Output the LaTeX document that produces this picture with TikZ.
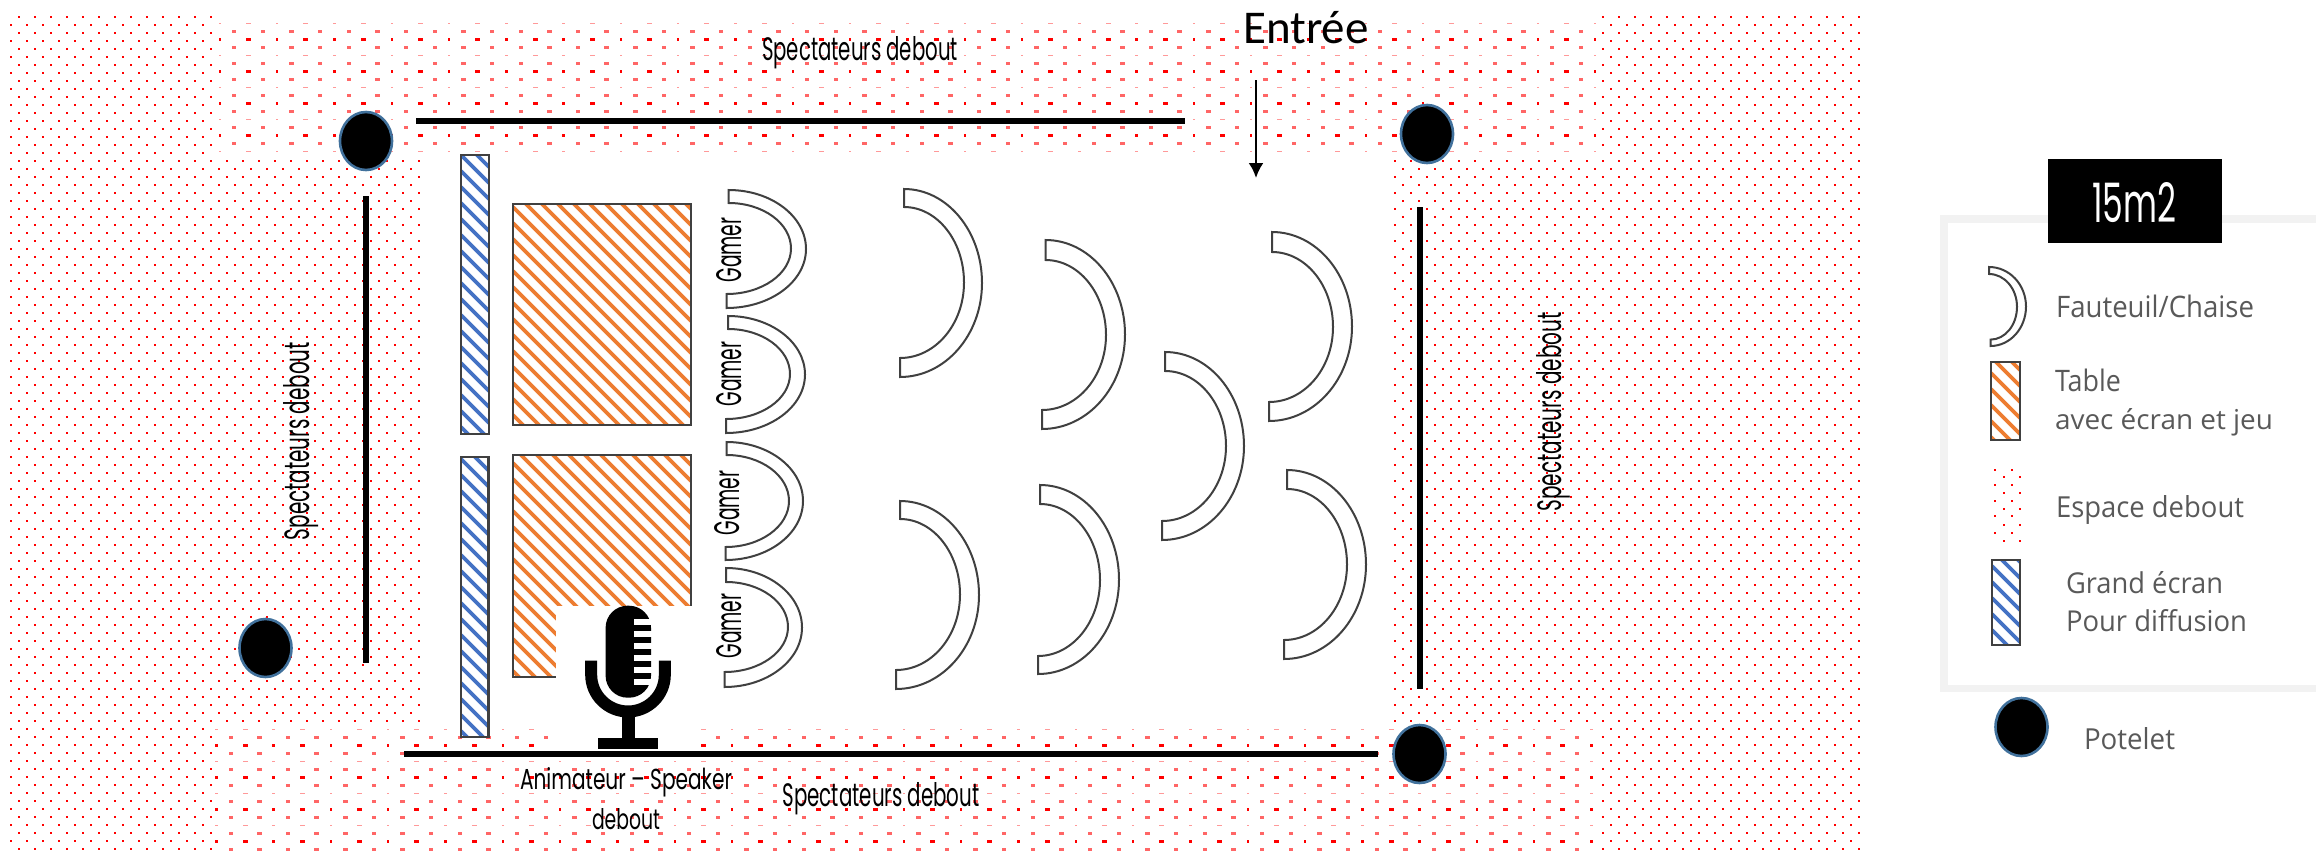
\documentclass[tikz,border=0pt]{standalone}
\usepackage{fontspec}
\usepackage{graphicx}
\usetikzlibrary{arrows.meta}
\newfontfamily\agency{Poppins}
\newfontfamily\legfont{Open Sans}
\newfontfamily\entfont{Carlito}
\definecolor{seatgrey}{HTML}{404040}
\definecolor{tableorange}{HTML}{ED7D31}
\definecolor{screenblue}{HTML}{4472C4}
\definecolor{legendgrey}{HTML}{595959}
\definecolor{framegrey}{HTML}{F2F2F2}
\definecolor{postedge}{HTML}{41719C}
\tikzset{
  seat/.style={draw=seatgrey,line width=2pt,fill=white,line join=miter},
  barrier/.style={line width=6pt,black},
  post/.style={fill=black,draw=postedge,line width=2.6pt},
  hatchedge/.style={draw=seatgrey,line width=2.4pt},
  label/.style={inner sep=0pt,outer sep=0pt,anchor=base,text=black},
  sidelabel/.style={label,rotate=90},
  legendlabel/.style={inner sep=0pt,outer sep=0pt,anchor=base west,text=legendgrey},
}
% fine dot lattice
\newcommand\dotregion[4]{%
 \foreach \k in {#3,...,#4}{%
  \pgfmathtruncatemacro\xo{mod(\k,2)==1?11:19}%
  \pgfmathtruncatemacro\ya{17+8*\k}%
  \pgfmathtruncatemacro\ma{ceil((#1-\xo)/16)}%
  \pgfmathtruncatemacro\mb{floor((#2-\xo)/16)}%
  \foreach \m in {\ma,...,\mb}{%
    \pgfmathtruncatemacro\xa{\xo+16*\m}%
    \fill[red] (\xa-1,\ya-1) rectangle (\xa+1,\ya+1);
  }}}
% blurred, stretched dot lattice
\newcommand\banddots[3]{%
 \foreach \i in {0,...,#3}{%
  \pgfmathtruncatemacro\rr{mod(\i,4)}%
  \pgfmathsetmacro\yb{#2+8*\i}%
  \ifodd\rr
    \foreach \j in {0,...,47}{%
      \pgfmathsetmacro\xb{#1-14.3+28.65*\j}%
      \fill[red!60!white] (\xb-2.2,\yb-1.2) rectangle (\xb+2.2,\yb+1.2);
    }%
  \else
    \foreach \j in {-1,...,47}{%
      \pgfmathsetmacro\xb{#1+28.65*\j}%
      \pgfmathtruncatemacro\jm{mod(abs(\j),2)}%
      \pgfmathsetmacro\hw{\jm==1?1.2:2.5}%
      \pgfmathsetmacro\hh{\rr==0?0.7:1.4}%
      \pgfmathtruncatemacro\cc{\rr==0?40:100}%
      \fill[red!\cc!white] (\xb-\hw,\yb-\hh) rectangle (\xb+\hw,\yb+\hh);
    }%
  \fi
 }}
% x1 y1 x2 y2 colour
\newcommand\hatchrect[5]{%
 \fill[white] (#1,#2) rectangle (#3,#4);
 \begin{scope}
  \clip (#1,#2) rectangle (#3,#4);
  \pgfmathtruncatemacro\na{floor((#2-#3)/16)}%
  \pgfmathtruncatemacro\nb{ceil((#4-#1)/16)}%
  \foreach \n in {\na,...,\nb}{%
    \pgfmathsetmacro\cc{16*\n-2}%
    \draw[#5,line width=3.8pt] (#1,#1+\cc) -- (#3,#3+\cc);
  }
 \end{scope}
 \draw[hatchedge] (#1,#2) rectangle (#3,#4);
}
% tipTop tipBot outerTop outerBot innerTop innerBot outerMax innerMax
\newcommand\seatshape[8]{%
 \pgfmathsetmacro\om{(#3+#4)/2}\pgfmathsetmacro\im{(#5+#6)/2}%
 \pgfmathsetmacro\oka{#1+0.5523*(#7-#1)}\pgfmathsetmacro\okb{#2+0.5523*(#7-#2)}%
 \pgfmathsetmacro\ika{#1+0.5523*(#8-#1)}\pgfmathsetmacro\ikb{#2+0.5523*(#8-#2)}%
 \pgfmathsetmacro\oh{0.5523*(#4-#3)/2}\pgfmathsetmacro\ih{0.5523*(#6-#5)/2}%
 \draw[seat] (#1,#3) .. controls (\oka,#3) and (#7,\om-\oh) .. (#7,\om)
   .. controls (#7,\om+\oh) and (\okb,#4) .. (#2,#4)
   -- (#2,#6) .. controls (\ikb,#6) and (#8,\im+\ih) .. (#8,\im)
   .. controls (#8,\im-\ih) and (\ika,#5) .. (#1,#5) -- cycle;
}
\begin{document}
\begin{tikzpicture}[x=1pt,y=-1pt]
\useasboundingbox (0,0) rectangle (2316,854);
% standing space
\dotregion{11}{212}{0}{104}
\dotregion{213}{420}{18}{88}
\dotregion{1394}{1600}{18}{88}
\dotregion{1601}{1860}{0}{104}
\banddots{248.5}{23.3}{16}
\banddots{245}{729.5}{15}
% barriers
\coordinate (topA) at (416,121); \coordinate (topB) at (1185,121);
\coordinate (leftA) at (366,196); \coordinate (leftB) at (366,663);
\coordinate (rightA) at (1420,207); \coordinate (rightB) at (1420,689);
\coordinate (botA) at (404,754); \coordinate (botB) at (1378,754);
% screens and tables
\hatchrect{461}{155}{489}{434}{screenblue}
\hatchrect{461}{457}{488.5}{737}{screenblue}
\hatchrect{513}{204}{691}{425}{tableorange}
\hatchrect{513}{455}{691}{677}{tableorange}
% microphone
\fill[white] (555.5,605.5) rectangle (701,751);
\fill[black,rounded corners=22pt] (605.6,605.7) rectangle (651,697.7);
\foreach \g in {622,634,646,658,670,682}{\fill[white] (633.7,\g-2.6) rectangle (652,\g+2.6);}
\draw[black,line width=12pt] (591.2,660.7) -- (591.2,675)
  .. controls (591.2,695) and (607.7,711.5) .. (628,711.5)
  .. controls (648.3,711.5) and (664.8,695) .. (664.8,675) -- (664.8,660.7);
\fill[black] (622,711) rectangle (634.7,740);
\fill[black] (598,738) rectangle (657.6,749);
\draw[barrier] (topA) -- (topB);
\draw[barrier] (leftA) -- (leftB);
\draw[barrier] (rightA) -- (rightB);
\draw[barrier] (botA) -- (botB);
% posts
\filldraw[post] (366,141) ellipse [x radius=26pt,y radius=29pt];
\filldraw[post] (1427,134) ellipse [x radius=26pt,y radius=29pt];
\filldraw[post] (265.5,648) ellipse [x radius=26pt,y radius=29pt];
\filldraw[post] (1419.5,754) ellipse [x radius=26pt,y radius=29pt];
% gamer seats
\seatshape{728.6}{726.5}{190}{308}{203}{294}{806}{791}
\seatshape{728}{726}{316}{433}{329}{419}{805}{790}
\seatshape{726.5}{725.5}{442}{560}{455}{547}{803}{789}
\seatshape{726}{724.5}{568}{687}{582}{672}{802}{788}
% spectator seats
\seatshape{904}{900}{189}{377}{207}{358}{982}{964}
\seatshape{1045.5}{1042}{240}{429}{260}{410}{1125}{1106}
\seatshape{1272}{1269}{232}{421}{252}{402}{1352}{1333}
\seatshape{1165}{1162}{352}{540}{371}{521}{1244}{1226}
\seatshape{1287}{1284}{470}{659}{489}{640}{1366}{1347}
\seatshape{1040}{1038}{485}{674}{504}{656}{1119}{1100}
\seatshape{900}{896}{501}{689}{519}{670}{979}{960}
% entrance
\node[label,font=\entfont\fontsize{47}{50}\selectfont] (entree) at (1306,43) {Entrée};
\coordinate (arrA) at (1256,80); \coordinate (arrB) at (1256,178);
\draw[black,line width=2.4pt,-{Latex[length=15pt,width=15pt]}] (arrA) -- (arrB);
% labels
\node[label] (specT) at (860,60) {\resizebox{196pt}{24pt}{\agency Spectateurs debout}};
\node[label] (specB) at (881,806) {\resizebox{197pt}{24pt}{\agency Spectateurs debout}};
\node[sidelabel] (specL) at (309,441) {\resizebox{198pt}{26pt}{\agency Spectateurs debout}};
\node[sidelabel] (specR) at (1561,412) {\resizebox{199pt}{25pt}{\agency Spectateurs debout}};
\node[label] (anim) at (626,789) {\resizebox{212pt}{22pt}{\agency Animateur – Speaker}};
\node[label] (animb) at (626,829) {\resizebox{68pt}{21pt}{\agency debout}};
\node[sidelabel] (g1) at (741,250) {\resizebox{65pt}{25pt}{\agency Gamer}};
\node[sidelabel] (g2) at (741,374) {\resizebox{65pt}{25pt}{\agency Gamer}};
\node[sidelabel] (g3) at (739,503) {\resizebox{65pt}{25pt}{\agency Gamer}};
\node[sidelabel] (g4) at (741,626) {\resizebox{65pt}{25pt}{\agency Gamer}};
% legend
\draw[framegrey,line width=7.5pt] (2316,218.75) -- (1943.75,218.75) -- (1943.75,688.25) -- (2316,688.25);
\fill[black] (2048,159) rectangle (2222,243);
\node[label,text=white] (area) at (2134,222) {\resizebox{84pt}{40pt}{\agency 15m2}};
\seatshape{1989}{1990.5}{267}{346}{274}{339.6}{2026}{2017}
\hatchrect{1991}{362}{2020}{440}{tableorange}
\foreach \rw/\xa in {470/1995,470/2012,477/2004,477/2020,485/1995,485/2012,493/2004,493/2020,501/1995,501/2012,509/2004,509/2020,516/1995,516/2012,525/2004,525/2020,533/1995,533/2012,541/2004,541/2020}{\fill[red] (\xa-1,\rw-1) rectangle (\xa+1,\rw+1);}
\hatchrect{1992}{560}{2020}{645}{screenblue}
\filldraw[post] (2021.5,727) ellipse [x radius=26pt,y radius=29pt];
\node[legendlabel] (l1) at (2056,317.5) {\resizebox{198pt}{22.5pt}{\legfont Fauteuil/Chaise}};
\node[legendlabel] (l2) at (2055,391) {\resizebox{66pt}{22.5pt}{\legfont Table}};
\node[legendlabel] (l3) at (2055,429) {\resizebox{218pt}{21pt}{\legfont avec écran et jeu}};
\node[legendlabel] (l4) at (2056,517) {\resizebox{188pt}{22pt}{\legfont Espace debout}};
\node[legendlabel] (l5) at (2066,593) {\resizebox{157pt}{22pt}{\legfont Grand écran}};
\node[legendlabel] (l6) at (2066,631) {\resizebox{181pt}{22pt}{\legfont Pour diffusion}};
\node[legendlabel] (l7) at (2084,749.6) {\resizebox{91pt}{22pt}{\legfont Potelet}};
\end{tikzpicture}
\end{document}
